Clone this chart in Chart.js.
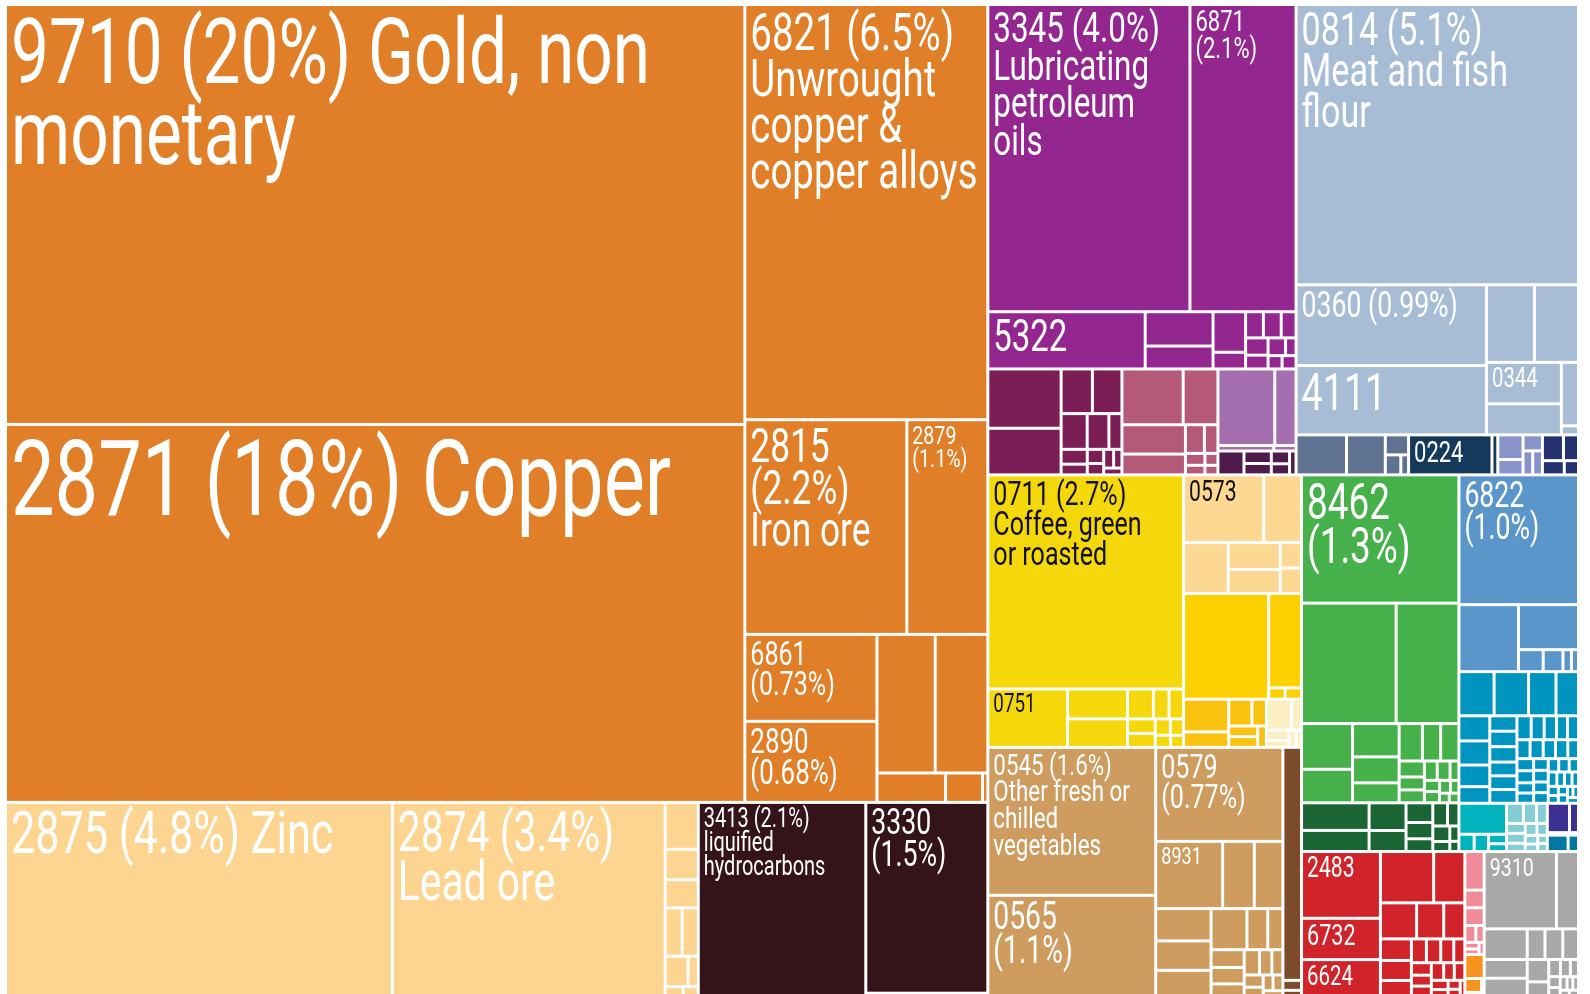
<!DOCTYPE html>
<html>
<head>
<meta charset="utf-8">
<script src="https://cdn.jsdelivr.net/npm/chart.js@4.4.1/dist/chart.umd.min.js"></script>
<style>
  html, body { margin: 0; padding: 0; background: #fff; overflow: hidden; }
  #wrap { width: 1590px; height: 997px; }
</style>
</head>
<body>
<div id="wrap"><canvas id="tm" width="1590" height="997"></canvas></div>
<script>
// ═══════════════════════════════════════════════════════════
// Export treemap — squarified cells on Chart.js linear scales
// ═══════════════════════════════════════════════════════════

// ── shares of exports (%), largest first inside each colour group
const orangeVals = [20, 18, 6.5, 2.24, 1.12, 0.74, 0.69, 0.52, 0.47, 0.13, 0.07, 0.01];
const orangeNames = ['9710 (20%) Gold, non\nmonetary', '2871 (18%) Copper', '6821 (6.5%)\nUnwrought\ncopper &\ncopper alloys',
  '2815\n(2.2%)\nIron ore', '2879\n(1.1%)', '6861\n(0.73%)', '2890\n(0.68%)'];
const peachVals = [4.85, 3.42, 0.1, 0.065, 0.06, 0.053, 0.05, 0.045, 0.02, 0.012, 0.01];
const peachNames = ['2875 (4.8%) Zinc', '2874 (3.4%)\nLead ore'];
const crudeVals = [2.1, 1.5, 0.02, 0.01];
const crudeNames = ['3413 (2.1%)\nliquified\nhydrocarbons', '3330\n(1.5%)'];

const purpleVals = [4.0, 2.1, 0.58, 0.15, 0.10, 0.085, 0.035, 0.03, 0.03, 0.025, 0.025, 0.02, 0.02, 0.012, 0.012, 0.012];
const purpleNames = ['3345 (4.0%)\nLubricating\npetroleum\noils', '6871\n(2.1%)', '5322'];
const plumVals = [0.28, 0.22, 0.09, 0.085, 0.06, 0.05, 0.03, 0.025, 0.018, 0.015, 0.012, 0.012, 0.01, 0.008];
const roseVals = [0.22, 0.125, 0.12, 0.085, 0.035, 0.025, 0.015, 0.012, 0.01, 0.008];
const lavenderVals = [0.28, 0.105, 0.02, 0.008];
const aubergineVals = [0.04, 0.022, 0.02, 0.015, 0.013, 0.01];

const fishmealVals = [5.1, 0.99, 0.85, 0.24, 0.22, 0.2, 0.15, 0.07, 0.01];
const fishmealNames = ['0814 (5.1%)\nMeat and fish\nflour', '0360 (0.99%)', '4111', '', '', '0344'];
const slateVals = [0.13, 0.1, 0.03, 0.02, 0.01];
const navyVals = [0.215, 0.015];
const navyNames = ['0224'];
const periwinkleVals = [0.04, 0.025, 0.02, 0.015, 0.015];
const inkVals = [0.035, 0.025, 0.02, 0.013];

const coffeeVals = [2.7, 0.3, 0.115, 0.11, 0.05, 0.03, 0.028, 0.026, 0.025, 0.016, 0.014, 0.012, 0.01];
const coffeeNames = ['0711 (2.7%)\nCoffee, green\nor roasted', '0751'];
const bananaVals = [0.35, 0.165, 0.146, 0.09, 0.08, 0.035, 0.035];
const bananaNames = ['0573'];
const maizeVals = [0.58, 0.2, 0.012, 0.012];
const amberVals = [0.095, 0.045, 0.04, 0.025, 0.02, 0.02, 0.012];
const creamVals = [0.05, 0.02, 0.015, 0.01, 0.008, 0.006];

const vegVals = [1.6, 1.1, 0.77, 0.29, 0.137, 0.124, 0.115, 0.105, 0.095, 0.095, 0.055, 0.04, 0.038, 0.035,
  0.028, 0.025, 0.02, 0.018, 0.015, 0.012, 0.01, 0.01, 0.008];
const vegNames = ['0545 (1.6%)\nOther fresh or\nchilled\nvegetables', '0565\n(1.1%)', '0579\n(0.77%)', '8931'];
const cocoaVals = [0.28, 0.012, 0.008];

const greenVals = [1.3, 0.734, 0.487, 0.15, 0.11, 0.1, 0.078, 0.06, 0.056, 0.044, 0.044, 0.026, 0.021, 0.021,
  0.016, 0.016, 0.011, 0.011, 0.011, 0.009, 0.007, 0.006, 0.006];
const greenNames = ['8462\n(1.3%)'];
const forestVals = [0.12, 0.092, 0.066, 0.05, 0.034, 0.028, 0.022, 0.022, 0.017, 0.017, 0.011, 0.009, 0.006];

const skyVals = [1.0, 0.257, 0.174, 0.035, 0.028, 0.012, 0.01];
const skyNames = ['6822\n(1.0%)'];
const tealVals = [0.1, 0.098, 0.078, 0.064, 0.05, 0.048, 0.043, 0.033, 0.027, 0.027, 0.027, 0.024, 0.024, 0.024,
  0.022, 0.02, 0.019, 0.017, 0.017, 0.016, 0.016, 0.015, 0.015, 0.013, 0.013, 0.013, 0.011, 0.011, 0.011, 0.011,
  0.01, 0.01, 0.009, 0.009, 0.008, 0.008, 0.007, 0.007, 0.006, 0.006, 0.005, 0.005, 0.005, 0.004, 0.004, 0.004];
const cyanVals = [0.095, 0.017, 0.016, 0.011, 0.009];
const iceVals = [0.022, 0.017, 0.014, 0.012, 0.012, 0.01, 0.009, 0.008, 0.007, 0.006, 0.005, 0.005];
const indigoVals = [0.042, 0.017, 0.005];
const steelVals = [0.022, 0.011];

const redVals = [0.339, 0.21, 0.19, 0.176, 0.103, 0.084, 0.063, 0.049, 0.043, 0.04, 0.033, 0.023, 0.022, 0.02,
  0.017, 0.016, 0.014, 0.014, 0.014, 0.012, 0.012, 0.01, 0.008, 0.007, 0.006, 0.005];
const redNames = ['2483', '6732', '6624'];
const pinkVals = [0.048, 0.022, 0.022, 0.012, 0.009, 0.006, 0.005, 0.004];
const tangerineVals = [0.03, 0.015, 0.005, 0.003];
const greyVals = [0.36, 0.11, 0.085, 0.052, 0.052, 0.035, 0.035, 0.031, 0.031, 0.021, 0.013, 0.011, 0.009,
  0.008, 0.007, 0.006, 0.005, 0.005, 0.004, 0.004];
const greyNames = ['9310'];

// ── grouping of the colour groups (nested blocks of the map)
const blocks = [
  ['orange', 'peach', 'crude'],
  [
    ['purple', 'plum', 'rose', 'lavender', 'aubergine'],
    ['fishmeal', 'slate', 'navy', 'periwinkle', 'ink'],
    ['coffee', 'banana', 'maize', 'amber', 'cream'],
    ['veg', 'cocoa'],
    ['green', 'forest'],
    ['sky', 'teal', 'cyan', 'ice', 'indigo', 'steel'],
    ['red', 'pink', 'tangerine'],
    ['grey']
  ]
];

const VALUES = {
  orange: orangeVals, peach: peachVals, crude: crudeVals,
  purple: purpleVals, plum: plumVals, rose: roseVals, lavender: lavenderVals, aubergine: aubergineVals,
  fishmeal: fishmealVals, slate: slateVals, navy: navyVals, periwinkle: periwinkleVals, ink: inkVals,
  coffee: coffeeVals, banana: bananaVals, maize: maizeVals, amber: amberVals, cream: creamVals,
  veg: vegVals, cocoa: cocoaVals, green: greenVals, forest: forestVals,
  sky: skyVals, teal: tealVals, cyan: cyanVals, ice: iceVals, indigo: indigoVals, steel: steelVals,
  red: redVals, pink: pinkVals, tangerine: tangerineVals, grey: greyVals
};
const NAMES = {
  orange: orangeNames, peach: peachNames, crude: crudeNames, purple: purpleNames, fishmeal: fishmealNames,
  navy: navyNames, coffee: coffeeNames, banana: bananaNames, veg: vegNames, green: greenNames,
  sky: skyNames, red: redNames, grey: greyNames
};

// ── styles
const FILL = {
  orange: '#e07f27', peach: '#fdd591', crude: '#341419',
  purple: '#93278f', plum: '#7a1e55', rose: '#b45a78', lavender: '#a56faf', aubergine: '#4e1a4c',
  fishmeal: '#a7bdd6', slate: '#5f7292', navy: '#15395b', periwinkle: '#8793c9', ink: '#243272',
  coffee: '#f5d80c', banana: '#fdd893', maize: '#fdd000', amber: '#f8c20f', cream: '#fcefc3',
  veg: '#cd9c5e', cocoa: '#7b4b2c', green: '#46b04a', forest: '#1b6535',
  sky: '#5b96cb', teal: '#0094c0', cyan: '#00b3bd', ice: '#85cdd4', indigo: '#3c3091', steel: '#0077a5',
  red: '#d1232a', pink: '#f18a99', tangerine: '#f7931e', grey: '#a8a8a6'
};
const DARK_TEXT = { coffee: 1, banana: 1 };
const FONT_PX = {
  '9710': 86, '2871': 99, '2875': 55, '2874': 52, '6821': 49, '2815': 45, '2879': 25, '6861': 32, '2890': 33,
  '3413': 25.5, '3330': 34, '3345': 40, '6871': 28, '5322': 42, '0814': 43.5, '0360': 34, '4111': 48,
  '0344': 26, '0224': 28, '0711': 32, '0573': 27, '0751': 24, '0545': 28.5, '0579': 32, '8931': 23,
  '0565': 36, '8462': 47, '6822': 34, '2483': 27, '6732': 27.5, '6624': 26, '9310': 25
};
const TALL = 1.06;      // glyphs a little taller than wide, like a condensed face
const SQUEEZE = 0.74;
const GAP = 3;

// ── hierarchy
function build(spec) {
  if (typeof spec === 'string') {
    const names = NAMES[spec] || [];
    const children = VALUES[spec].map((v, i) => ({ value: v, group: spec, label: names[i] || '' }));
    return { children, value: children.reduce((s, c) => s + c.value, 0) };
  }
  const children = spec.map(build);
  return { children, value: children.reduce((s, c) => s + c.value, 0) };
}
const root = build(blocks);

// ── squarified layout (golden ratio rows)
const PHI = (1 + Math.sqrt(5)) / 2;
function squarify(nodes, x0, y0, x1, y1, place) {
  nodes = [...nodes].sort((a, b) => b.value - a.value);
  let value = nodes.reduce((s, n) => s + n.value, 0);
  let i0 = 0, i1 = 0;
  const n = nodes.length;
  while (i0 < n) {
    const dx = x1 - x0, dy = y1 - y0;
    let sum = nodes[i1++].value, minV = sum, maxV = sum;
    const alpha = Math.max(dy / dx, dx / dy) / (value * PHI);
    let beta = sum * sum * alpha;
    let minRatio = Math.max(maxV / beta, beta / minV);
    for (; i1 < n; ++i1) {
      const v = nodes[i1].value;
      sum += v;
      if (v < minV) minV = v;
      if (v > maxV) maxV = v;
      beta = sum * sum * alpha;
      const r = Math.max(maxV / beta, beta / minV);
      if (r > minRatio) { sum -= v; break; }
      minRatio = r;
    }
    const row = nodes.slice(i0, i1);
    if (dx < dy) {
      const yy = i1 >= n ? y1 : y0 + dy * sum / value;
      let x = x0;
      row.forEach((nd, k) => { const xe = k === row.length - 1 ? x1 : x + dx * nd.value / sum; place(nd, x, y0, xe, yy); x = xe; });
      y0 = yy;
    } else {
      const xx = i1 >= n ? x1 : x0 + dx * sum / value;
      let y = y0;
      row.forEach((nd, k) => { const ye = k === row.length - 1 ? y1 : y + dy * nd.value / sum; place(nd, x0, y, xx, ye); y = ye; });
      x0 = xx;
    }
    value -= sum; i0 = i1;
  }
}
function layoutNode(node, x0, y0, x1, y1, out) {
  if (!node.children) { out.push({ ...node, x0, y0, x1, y1 }); return; }
  squarify(node.children, x0, y0, x1, y1, (c, a, b, cc, d) => layoutNode(c, a, b, cc, d, out));
}

// ── plugin: draw cells through the x / y scales
const cellsPlugin = {
  id: 'treemapCells',
  afterDatasetsDraw(chart) {
    const { ctx, chartArea: a, scales: { x, y } } = chart;
    const w = a.right - a.left, h = a.bottom - a.top;
    const cells = [];
    layoutNode(root, 0, 0, w, h, cells);
    ctx.save();
    cells.forEach(c => {
      const l = x.getPixelForValue(c.x0 / w) + GAP / 2, r = x.getPixelForValue(c.x1 / w) - GAP / 2;
      const t = y.getPixelForValue(c.y0 / h) + GAP / 2, b = y.getPixelForValue(c.y1 / h) - GAP / 2;
      if (r - l <= 0.3 || b - t <= 0.3) return;
      ctx.fillStyle = FILL[c.group];
      ctx.fillRect(l, t, r - l, b - t);
      if (!c.label) return;
      const code = c.label.split(/[\s\n]/)[0];
      const px = FONT_PX[code] || 24;
      ctx.save();
      ctx.beginPath(); ctx.rect(l, t, r - l, b - t); ctx.clip();
      ctx.fillStyle = DARK_TEXT[c.group] ? '#111' : '#fff';
      ctx.font = `${(px * TALL).toFixed(1)}px Roboto, "Liberation Sans", sans-serif`;
      ctx.textBaseline = 'alphabetic';
      c.label.split('\n').forEach((ln, i) => {
        ctx.save();
        ctx.translate(l + 4, t + px * 0.9 + i * px * 0.94);
        ctx.scale(SQUEEZE, 1);
        ctx.fillText(ln, 0, 0);
        ctx.restore();
      });
      ctx.restore();
    });
    ctx.restore();
  }
};

new Chart(document.getElementById('tm'), {
  type: 'scatter',
  data: { datasets: [{ data: [] }] },
  options: {
    responsive: false, animation: false, devicePixelRatio: 1,
    layout: { padding: { left: 5.5, top: 4.5, right: 11.5, bottom: 0 } },
    plugins: { legend: { display: false }, tooltip: { enabled: false } },
    scales: {
      x: { type: 'linear', min: 0, max: 1, display: false },
      y: { type: 'linear', min: 0, max: 1, reverse: true, display: false }
    }
  },
  plugins: [cellsPlugin]
});
</script>
</body>
</html>
